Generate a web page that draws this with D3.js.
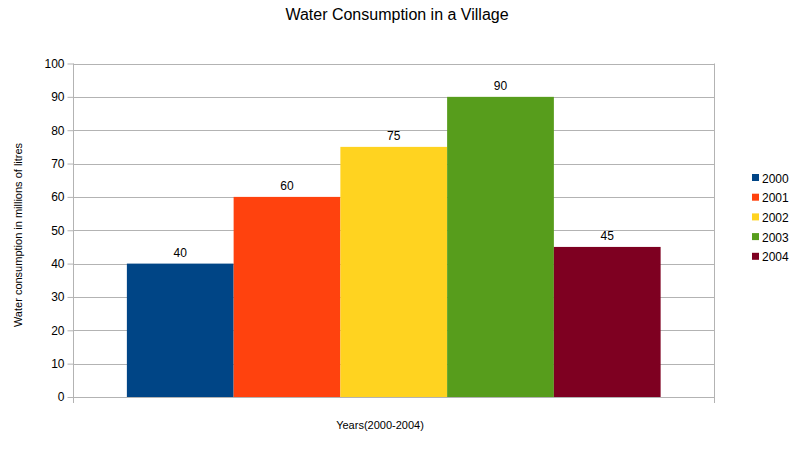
<!DOCTYPE html>
<html><head><meta charset="utf-8">
<script src="https://cdn.jsdelivr.net/npm/d3@7"></script>
<style>body{margin:0;background:#fff}svg{display:block;font-family:"Liberation Sans",Arial,sans-serif}</style>
</head><body><svg id="c" width="794" height="464"></svg>
<script>
const categories = ["Years(2000-2004)"];
const years = ["2000","2001","2002","2003","2004"];
const values = [40,60,75,90,45];
const colors = ["#004586","#ff420e","#ffd320","#579d1c","#7e0021"];
const yTicks = [0,10,20,30,40,50,60,70,80,90,100];

const svg = d3.select("#c");
const L=73.5, R=714, T=63.5, B=397;
const y = d3.scaleLinear().domain([0,100]).range([B,T]);
const xOuter = d3.scaleBand().domain(categories).range([L,R]).paddingInner(0).paddingOuter(0.1);
const xInner = d3.scaleBand().domain(years).range([xOuter(categories[0]), xOuter(categories[0])+xOuter.bandwidth()]).padding(0);
const color = d3.scaleOrdinal().domain(years).range(colors);

// gridlines
svg.append("g").selectAll("line").data(yTicks).join("line")
  .attr("x1",L).attr("x2",R).attr("y1",d=>Math.round(y(d))+0.5).attr("y2",d=>Math.round(y(d))+0.5)
  .attr("stroke","#b3b3b3").attr("stroke-width",1);
// right border
svg.append("line").attr("x1",R+0.5).attr("x2",R+0.5).attr("y1",T).attr("y2",B+6).attr("stroke","#b3b3b3");

// bars
svg.append("g").selectAll("rect").data(values).join("rect")
  .attr("x",(d,i)=>xInner(years[i])).attr("width",xInner.bandwidth())
  .attr("y",d=>y(d)).attr("height",d=>y(0)-y(d))
  .attr("fill",(d,i)=>color(years[i]));

// value labels
svg.append("g").selectAll("text").data(values).join("text")
  .attr("x",(d,i)=>xInner(years[i])+xInner.bandwidth()/2).attr("y",d=>y(d)-7)
  .attr("text-anchor","middle").attr("font-size",12).attr("fill","#000").text(d=>d);

// y axis
const yAxis = d3.axisLeft(y).tickValues(yTicks).tickSize(6).tickPadding(3);
const gy = svg.append("g").attr("transform",`translate(${L},0)`).call(yAxis);
gy.select(".domain").attr("stroke","#b3b3b3").attr("d",`M-0,${T}V${B+6}`);
gy.selectAll(".tick line").attr("stroke","#b3b3b3");
gy.selectAll(".tick text").attr("font-size",12).attr("fill","#000").attr("font-family","Liberation Sans, Arial, sans-serif");

// x axis baseline
svg.append("line").attr("x1",L).attr("x2",R).attr("y1",B+0.5).attr("y2",B+0.5).attr("stroke","#b3b3b3");

// title
svg.append("text").attr("x",397).attr("y",20).attr("text-anchor","middle").attr("font-size",16).attr("fill","#000").text("Water Consumption in a Village");
// x title
svg.append("text").attr("x",380).attr("y",429).attr("text-anchor","middle").attr("font-size",11).attr("fill","#000").text(categories[0]);
// y title
svg.append("text").attr("transform","translate(22,235) rotate(-90)").attr("text-anchor","middle").attr("font-size",11).attr("fill","#000").text("Water consumption in millions of litres");

// legend
const lg = svg.append("g").selectAll("g").data(years).join("g")
  .attr("transform",(d,i)=>`translate(752,${178+i*19.7})`);
lg.append("rect").attr("x",0).attr("y",-4).attr("width",7).attr("height",7).attr("fill",d=>color(d));
lg.append("text").attr("x",10).attr("y",4.5).attr("font-size",12).attr("fill","#000").text(d=>d);
</script></body></html>
